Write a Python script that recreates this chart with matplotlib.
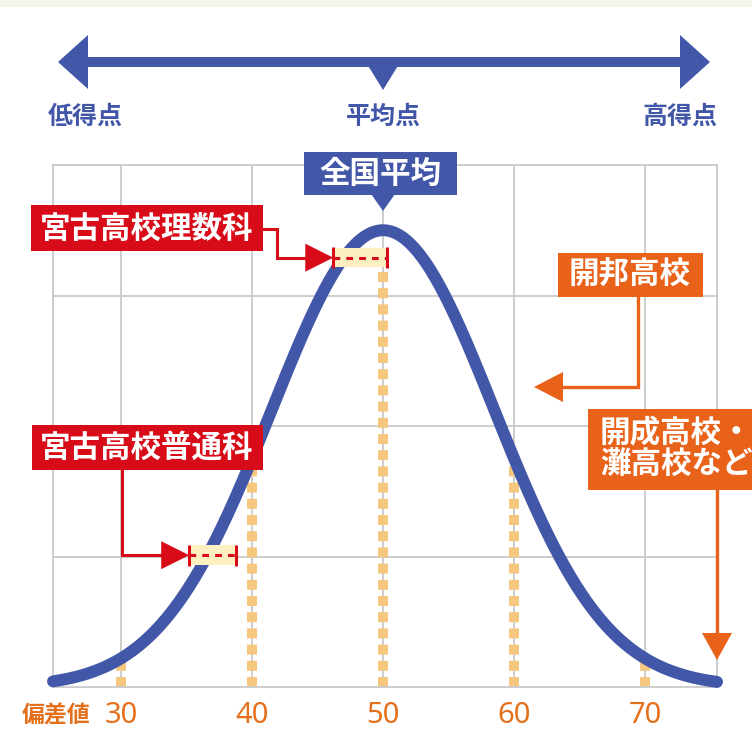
import numpy as np
import matplotlib
matplotlib.use("Agg")
import matplotlib.pyplot as plt
from matplotlib.patches import Rectangle, Polygon

plt.rcParams['font.family'] = ['Noto Sans CJK JP', 'DejaVu Sans']

# ---------------- data ----------------
dist_mean = 50.0          # 全国平均
dist_sd = 8.5             # spread of the bell curve
peak_height = 3.5         # curve peak in grid units
x_range = (24.8, 75.5)
tick_values = [30, 40, 50, 60, 70]
tick_labels = ["30", "40", "50", "60", "70"]
range_names = ["宮古高校理数科", "宮古高校普通科"]
range_lo = [46.2, 35.2]
range_hi = [50.3, 38.8]
range_level = [3.29, 1.01]
scale_labels = ["低得点", "平均点", "高得点"]

# ---------------- colours ----------------
BLUE = "#4357A8"
RED = "#D80C18"
ORANGE = "#E8621A"
TICK_ORANGE = "#E5701C"
DOT_ORANGE = "#F6C87F"
YELLOW = "#FDF0C0"
GRID = "#C9C9C9"

W, H = 752, 739
fig = plt.figure(figsize=(W / 100, H / 100), dpi=100)
fig.patch.set_facecolor("white")

# main data axes
L, R, T, B = 53, 717, 165, 687
ax = fig.add_axes([L / W, 1 - B / H, (R - L) / W, (B - T) / H])
ax.set_xlim(*x_range)
ax.set_ylim(0, 4)
ax.set_facecolor("white")
for s in ax.spines.values():
    s.set_color(GRID)
    s.set_linewidth(1.3)
ax.set_xticks(tick_values)
ax.set_xticklabels(tick_labels, color=TICK_ORANGE, fontsize=21,
                   family=['Noto Sans', 'DejaVu Sans'])
ax.set_yticks([1, 2, 3])
ax.tick_params(axis='both', length=0, pad=10)
ax.tick_params(axis='y', labelleft=False)
ax.grid(True, color=GRID, linewidth=1.3, zorder=0)
ax.set_axisbelow(True)


def curve(x):
    return peak_height * np.exp(-0.5 * ((x - dist_mean) / dist_sd) ** 2)


# dotted orange guide lines (from base up to the curve)
for tv in tick_values:
    top = curve(tv)
    if tv == dist_mean:
        top = range_level[0] - 0.08
    ax.plot([tv, tv], [0, top], color=DOT_ORANGE, lw=7.2,
            dashes=(1.0, 0.62), solid_capstyle='butt', zorder=2)

xs = np.linspace(x_range[0], x_range[1], 600)
ax.plot(xs, curve(xs), color=BLUE, lw=8.6, solid_capstyle='round',
        zorder=3, clip_on=False)

# range bars
for lo, hi, lev in zip(range_lo, range_hi, range_level):
    ax.add_patch(Rectangle((lo, lev - 0.075), hi - lo, 0.15,
                           facecolor=YELLOW, edgecolor='none', zorder=4))
    ax.plot([lo, hi], [lev, lev], color=RED, lw=2.2, dashes=(2.2, 2.0),
            zorder=5)
    for xx in (lo, hi):
        ax.plot([xx, xx], [lev - 0.08, lev + 0.08], color=RED, lw=2.2,
                zorder=5, solid_capstyle='butt')

# ---------------- overlay in pixel coordinates ----------------
ov = fig.add_axes([0, 0, 1, 1], zorder=10)
ov.set_xlim(0, W)
ov.set_ylim(H, 0)
ov.axis('off')
ov.patch.set_alpha(0)


def px(xd, yd):
    dx, dy = ax.transData.transform((xd, yd))
    return dx, H - dy


ov.text(22, 716, "偏差値", ha='left', va='center', color=TICK_ORANGE,
        fontsize=16.5, fontweight='bold')

# top beige strip
ov.add_patch(Rectangle((0, 0), W, 7, facecolor="#F6F5EC", edgecolor='none'))

# top double arrow
cx = px(dist_mean, 0)[0]
ov.add_patch(Rectangle((86, 57), 710 - 86 - 28, 10, facecolor=BLUE,
                       edgecolor='none'))
ov.add_patch(Polygon([(58, 62), (88, 35), (88, 89)], closed=True,
                     facecolor=BLUE, edgecolor='none'))
ov.add_patch(Polygon([(710, 62), (680, 35), (680, 89)], closed=True,
                     facecolor=BLUE, edgecolor='none'))
ov.add_patch(Polygon([(cx - 16, 64), (cx + 16, 64), (cx, 90)], closed=True,
                     facecolor=BLUE, edgecolor='none'))
for lab, xx in zip(scale_labels, [85, cx, 680]):
    ov.text(xx, 117, lab, ha='center', va='center', color=BLUE,
            fontsize=18, fontweight='bold')


def box(x0, y0, x1, y1, color):
    ov.add_patch(Rectangle((x0, y0), x1 - x0, y1 - y0, facecolor=color,
                           edgecolor='none'))


# 全国平均
box(304, 152, 457, 195, BLUE)
ov.add_patch(Polygon([(cx - 12, 194), (cx + 12, 194), (cx, 211)], closed=True,
                     facecolor=BLUE, edgecolor='none'))
ov.text(380, 174, "全国平均", ha='center', va='center', color='white',
        fontsize=22, fontweight='bold')

# 宮古高校理数科
tip = px(range_lo[0], range_level[0])
box(31, 205, 263, 251, RED)
ov.text(147, 229, range_names[0], ha='center', va='center', color='white',
        fontsize=22, fontweight='bold')
ov.plot([263, 277, 277, tip[0] - 26], [229, 229, tip[1], tip[1]], color=RED,
        lw=2.2, solid_joinstyle='miter')
ov.add_patch(Polygon([(tip[0], tip[1]), (tip[0] - 28, tip[1] - 14),
                      (tip[0] - 28, tip[1] + 14)], closed=True,
                     facecolor=RED, edgecolor='none'))

# 宮古高校普通科
tip = px(range_lo[1], range_level[1])
box(32, 425, 263, 470, RED)
ov.text(147, 448, range_names[1], ha='center', va='center', color='white',
        fontsize=22, fontweight='bold')
ov.plot([122, 122, tip[0] - 26], [470, tip[1], tip[1]], color=RED, lw=2.2,
        solid_joinstyle='miter')
ov.add_patch(Polygon([(tip[0], tip[1]), (tip[0] - 28, tip[1] - 14),
                      (tip[0] - 28, tip[1] + 14)], closed=True,
                     facecolor=RED, edgecolor='none'))

# 開邦高校
box(558, 253, 703, 297, ORANGE)
ov.text(630, 275, "開邦高校", ha='center', va='center', color='white',
        fontsize=22, fontweight='bold')
ov.plot([638, 638, 560], [297, 387, 387], color=ORANGE, lw=2.4,
        solid_joinstyle='miter')
ov.add_patch(Polygon([(534, 387), (563, 372), (563, 402)], closed=True,
                     facecolor=ORANGE, edgecolor='none'))

# 開成高校・灘高校など
box(588, 409, 760, 490, ORANGE)
ov.text(600, 433, "開成高校・", ha='left', va='center', color='white',
        fontsize=22, fontweight='bold')
ov.text(600, 465, "灘高校など", ha='left', va='center', color='white',
        fontsize=22, fontweight='bold')
ov.plot([717, 717], [490, 636], color=ORANGE, lw=2.4)
ov.add_patch(Polygon([(717, 660), (702, 633), (732, 633)], closed=True,
                     facecolor=ORANGE, edgecolor='none'))

fig.savefig("out.png", dpi=100, facecolor='white')
